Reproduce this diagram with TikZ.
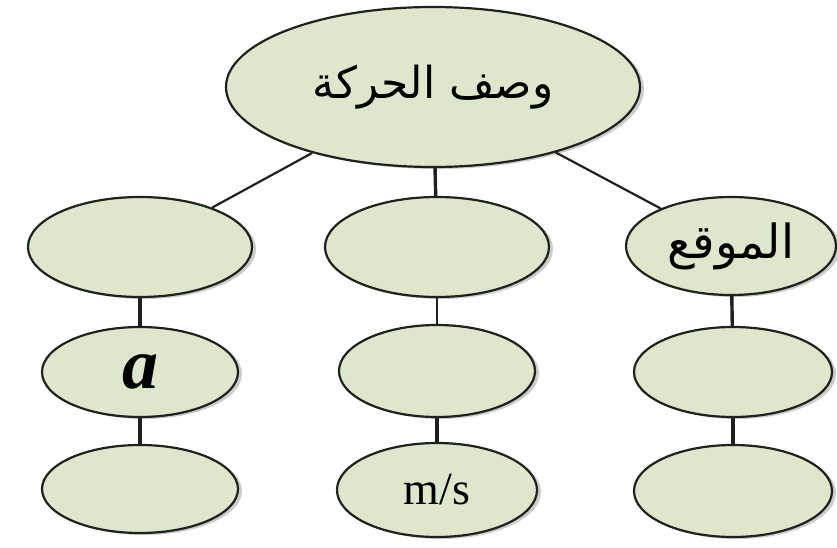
\documentclass[tikz,border=0pt]{standalone}
\usepackage{fontspec}
\usetikzlibrary{shapes.geometric,shadows}
\TeXXeTstate=1
\newfontfamily\arabicfont[Script=Arabic]{DejaVu Sans}
\newfontfamily\serifx{Liberation Serif}
\definecolor{sage}{RGB}{220,231,203}
\definecolor{edgec}{RGB}{30,33,28}
\tikzset{
  bubble/.style={ellipse, draw=edgec, line width=2.2pt, fill=sage, inner sep=0pt,
    drop shadow={shadow xshift=4pt, shadow yshift=-2pt, opacity=0.2, fill=black}},
  diag/.style={draw=edgec, line width=2.2pt},
  vert/.style={draw=edgec, line width=3.4pt},
}
\begin{document}
\begin{tikzpicture}[x=1pt,y=-1pt]
\useasboundingbox (0,0) rectangle (837,548);
\node[bubble, minimum width=414pt, minimum height=160pt] (top) at (433,87)
  {\arabicfont\fontsize{44}{52}\selectfont\beginR وصف الحركة\endR};
\node[bubble, minimum width=224pt, minimum height=100pt] (L1) at (140,247) {};
\node[bubble, minimum width=224pt, minimum height=100pt] (M1) at (437,247) {};
\node[bubble, minimum width=210pt, minimum height=98pt] (R1) at (731,246)
  {\arabicfont\fontsize{47}{54}\selectfont\beginR الموقع\endR};
\node[bubble, minimum width=196pt, minimum height=90pt] (L2) at (140,372)
  {\serifx\fontsize{72}{76}\selectfont\bfseries\itshape a};
\node[bubble, minimum width=196pt, minimum height=92pt] (M2) at (437,371) {};
\node[bubble, minimum width=198pt, minimum height=90pt] (R2) at (733,372) {};
\node[bubble, minimum width=196pt, minimum height=88pt] (L3) at (140,489) {};
\node[bubble, minimum width=200pt, minimum height=94pt] (M3) at (437,490)
  {\serifx\fontsize{46}{52}\selectfont m/s};
\node[bubble, minimum width=198pt, minimum height=92pt] (R3) at (733,491) {};
\draw[diag] (top) -- (L1);
\draw[diag] (top) -- (R1);
\draw[vert] (top) -- (M1);
\draw[vert] (L1) -- (L2);
\draw[vert] (L2) -- (L3);
\draw[diag] (M1) -- (M2);
\draw[vert] (M2) -- (M3);
\draw[vert] (R1) -- (R2);
\draw[vert] (R2) -- (R3);
\end{tikzpicture}
\end{document}
